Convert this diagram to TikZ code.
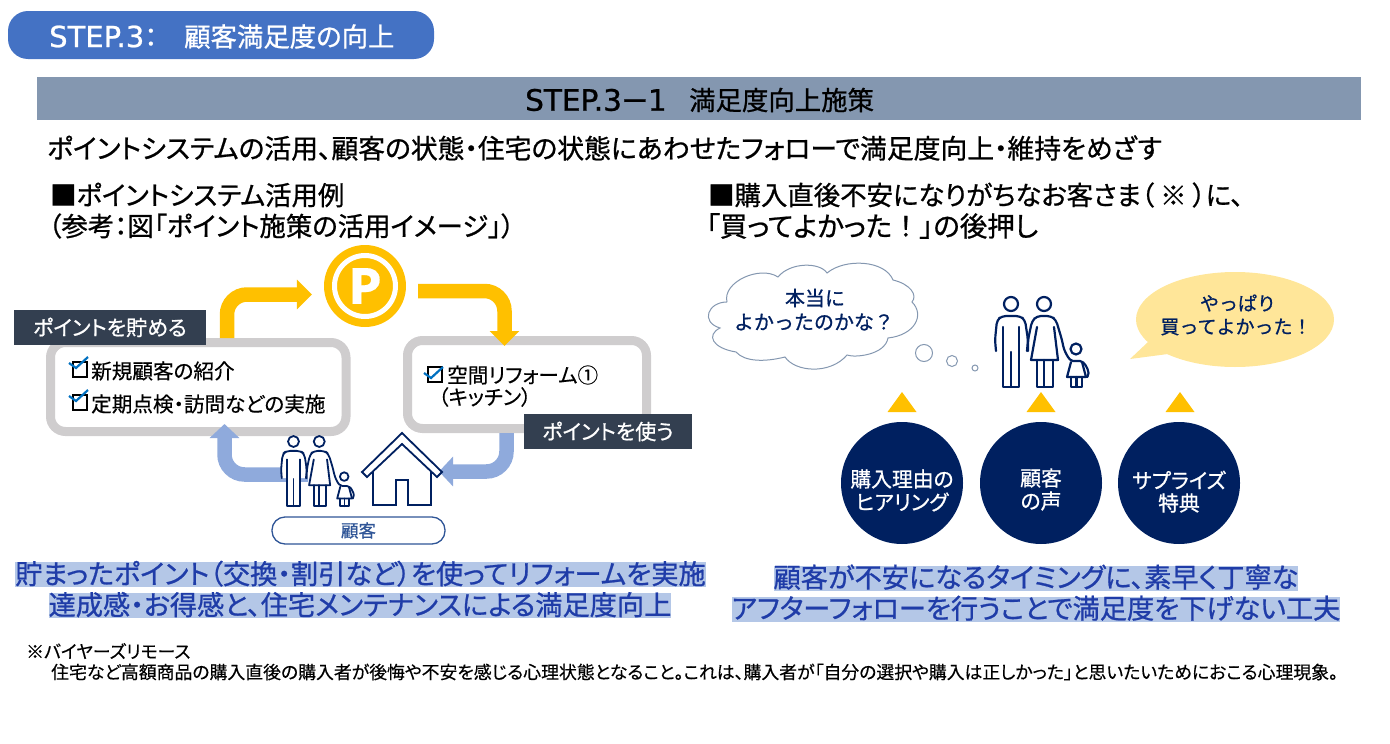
\documentclass[tikz,border=0pt]{standalone}
\usepackage{fontspec}
\setmainfont[RawFeature={+palt},FakeBold=0.4]{Noto Sans CJK JP}
\newfontfamily\medfont[RawFeature={+palt},FakeBold=0.8]{Noto Sans CJK JP}
\newfontfamily\widefont[FakeBold=0.8]{Noto Sans CJK JP}
\newfontfamily\latinfont[FakeBold=0.8]{DejaVu Sans}
\usetikzlibrary{positioning, arrows.meta}
\definecolor{navy}{HTML}{002060}
\definecolor{slate}{HTML}{333F50}
\definecolor{gold}{HTML}{FFC000}
\definecolor{softblue}{HTML}{8FAADC}
\definecolor{softgray}{HTML}{CFCDCE}
\definecolor{hilite}{HTML}{B4C7E7}
\definecolor{hitext}{HTML}{1F3CA8}
\definecolor{titleblue}{HTML}{4472C4}
\definecolor{bandgray}{HTML}{8497B0}
\definecolor{custblue}{HTML}{2F5597}
\definecolor{cloudgray}{HTML}{8497B0}
\definecolor{bubble}{HTML}{FFE699}
\definecolor{tickblue}{HTML}{0070C0}
\newcommand{\fs}[1]{\fontsize{#1}{#1}\selectfont}
\tikzset{
  txt/.style={inner sep=0pt, anchor=west},
  headtxt/.style={txt, font=\medfont\fs{26.4}},
  hitxt/.style={inner sep=0pt, fill=hilite, text=hitext, text height=22pt, text depth=3pt, font=\medfont\fs{27.2}},
  notetxt/.style={txt, font=\fs{17.85}},
  itemtxt/.style={txt, font=\fs{20.6}},
  tagbox/.style={fill=slate, text=white, inner sep=0pt, minimum height=35pt, font=\medfont\fs{21}},
  panelbox/.style={draw=softgray, line width=9pt, rounded corners=15pt, fill=white, inner sep=0pt},
  goldarrow/.style={draw=gold, line width=14.5pt, rounded corners=20pt, -{Triangle[width=29pt,length=15pt]}},
  bluearrow/.style={draw=softblue, line width=14.5pt, rounded corners=20pt, -{Triangle[width=29pt,length=14pt]}},
  roundnode/.style={circle, fill=navy, text=white, minimum size=122pt, inner sep=0pt},
  saytxt/.style={inner sep=0pt, text=navy, font=\widefont\fs{20}},
  circtxt/.style={inner sep=0pt, text=white, font=\medfont\fs{20.8}},
  pics/tickbox/.style={code={
    \draw[black, line width=1.6pt] (0,0) rectangle (14,15);
    \draw[tickblue, line width=2.2pt] (-4,{1+#1}) -- (3,{6+#1}) -- (15,{-5+#1});
  }},
  pics/uptriangle/.style={code={\fill[gold] (0,0) -- (14.5,20) -- (-14.5,20) -- cycle;}},
  pics/family/.style={code={
    \begin{scope}[draw=navy, line width=#1, line join=round, line cap=round, fill=white]
      % man
      \fill (-15,47) -- (-16,36) -- (-13,18) -- (-9,13) -- (9,13) -- (14,18) -- (17,36) -- (16,47) -- (8,47) -- (8,83) -- (-8,83) -- (-8,47) -- cycle;
      \draw[rounded corners=4pt] (-15,47) -- (-16,36) -- (-14,16) -- (-9,12) -- (9,12) -- (14,16) -- (17,36) -- (16,47);
      \draw (-8,23) -- (-8,83) -- (8,83) -- (8,23);
      \draw (0,48) -- (0,83);
      \draw (0,0) circle (7);
      % woman
      \filldraw[rounded corners=4pt] (17,47) -- (17,36) -- (21,17) -- (26,12) -- (40,12) -- (45,16) -- (51,36) -- (53,46) -- (57,53);
      \filldraw (26,23) -- (20,56) -- (47,56) -- (43,23);
      \draw (26,56) -- (26,83) -- (42,83) -- (42,56);
      \draw (33,56) -- (33,83);
      \draw (33,0) circle (7);
      % child
      \draw (65,45) circle (5.5);
      \filldraw (60,58) -- (56,73) -- (75,73) -- (71,58);
      \draw[rounded corners=2pt] (57,53) -- (60,57) -- (71,57) -- (76,63) -- (78,71) -- (76,73);
      \draw (60,73) -- (60,83) -- (71,83) -- (71,73);
      \draw (65.5,73) -- (65.5,83);
    \end{scope}
  }}
}

\begin{document}
\begin{tikzpicture}[x=1pt, y=-1pt]
  \useasboundingbox (0,0) rectangle (1390,744);

  % Title and band
  \node[fill=titleblue, rounded corners=20pt, minimum width=426pt, minimum height=48pt, inner sep=0pt] (titlebar) at (221,35) {};
  \node[txt, text=white, font=\medfont\fs{26.4}] (titletxt) at (49,36.5) {{\latinfont\fs{29}STEP.3}：};
  \node[txt, text=white, font=\medfont\fs{26.4}] (titlejp) at (184,36.5) {顧客満足度の向上};
  \node[fill=bandgray, minimum width=1324pt, minimum height=43pt, inner sep=0pt] (band) at (699,98.5) {};
  \node[txt, font=\medfont\fs{26.4}] (bandtxt) at (525,100) {{\latinfont\fs{29.5}STEP.3}ー{\latinfont\fs{29.5}1}};
  \node[txt, font=\medfont\fs{26.4}] (bandjp) at (689,100) {満足度向上施策};
  \node[txt, font=\medfont\fs{26.8}] (lead) at (47,148) {ポイントシステムの活用、顧客の状態・住宅の状態にあわせたフォローで満足度向上・維持をめざす};

  % Headings
  \node[headtxt] (headL1) at (50,195) {■ポイントシステム活用例};
  \node[headtxt] (headL2) at (48,226) {（参考：図「ポイント施策の活用イメージ」）};
  \node[headtxt] (headR1) at (708,195) {■購入直後不安になりがちなお客さま（\hspace{6pt}※\hspace{6pt}）に、};
  \node[headtxt, font=\medfont\fs{27.5}] (headR2) at (706,226) {「買ってよかった{\widefont！}」の後押し};

  % Left cycle
  \node[panelbox, minimum width=295.5pt, minimum height=89pt] (boxSave) at (198.25,387) {};
  \node[panelbox, minimum width=239pt, minimum height=88pt] (boxUse) at (527,384.5) {};
  \node[circle, fill=gold, minimum size=82pt, inner sep=0pt] (pMark) at (365,286) {};
  \node[circle, draw=white, line width=5pt, minimum size=61pt, inner sep=0pt, text=white, font=\bfseries\fs{48}] (pLetter) at (365,286) {P};

  \coordinate (famEnd) at (308,474.5);
  \coordinate (houseEnd) at (439,471.5);

  % Arrows
  \draw[goldarrow] ([xshift=28.75pt]boxSave.north) |- ([xshift=-12pt,yshift=-8.5pt]pMark.west);
  \draw[goldarrow] ([xshift=12pt,yshift=-5pt]pMark.east) -| ([xshift=-22.5pt,yshift=-10pt]boxUse.north);
  \draw[bluearrow] (famEnd) -| ([xshift=26.25pt,yshift=12pt]boxSave.south);
  \draw[bluearrow] ([xshift=-20.5pt]boxUse.south) |- (houseEnd);

  % Tags
  \node[tagbox, minimum width=192pt, text height=16pt, text depth=0pt] (tagSave) at (110,327.5) {ポイントを貯める};
  \node[tagbox, minimum width=168pt, text height=16pt, text depth=0pt] (tagUse) at (608,431.5) {ポイントを使う};

  % Box contents
  \pic at (73,362) {tickbox=0};
  \node[itemtxt] (item1) at (91,371) {新規顧客の紹介};
  \pic at (73,395) {tickbox=0};
  \node[itemtxt] (item2) at (91,404) {定期点検・訪問などの実施};
  \pic at (428,367) {tickbox=5};
  \node[itemtxt] (item3) at (447,375) {空間リフォーム①};
  \node[itemtxt] (item4) at (438,397) {（キッチン）};

  % Customer and house
  \pic[scale=0.78] at (293.5,441.5) {family=1.8pt};
  \draw[draw=navy, line width=1.8pt, fill=white, line join=miter] (373,505) -- (373,462) -- (402,444) -- (431,462) -- (431,505) -- (408,505) -- (408,480) -- (396,480) -- (396,505) -- cycle;
  \draw[draw=navy, line width=1.8pt, fill=white, line join=miter] (362,472) -- (402,433) -- (442,472) -- (437,477) -- (402,444) -- (367,477) -- cycle;
  \node[draw=custblue, line width=1.3pt, fill=white, rounded corners=13pt, minimum width=173pt, minimum height=27pt, inner sep=0pt, text=custblue, font=\medfont\fs{17.5}] (customer) at (358.5,530.5) {顧客};

  % Left summary
  \node[hitxt] (sumL1) at (360.5,574.5) {貯まったポイント（交換・割引など）を使ってリフォームを実施};
  \node[hitxt] (sumL2) at (360,605.5) {達成感・お得感と、住宅メンテナンスによる満足度向上};

  % Cloud
  \draw[draw=cloudgray, line width=1pt, fill=white] (727,302) .. controls (722,282) and (760,265) .. (778,277)
    .. controls (790,262) and (820,262) .. (827,273)
    .. controls (845,258) and (885,260) .. (893,280)
    .. controls (910,284) and (918,295) .. (912,302)
    .. controls (925,315) and (915,335) .. (888,338)
    .. controls (885,355) and (855,358) .. (847,355)
    .. controls (830,375) and (795,372) .. (785,357)
    .. controls (765,362) and (745,362) .. (736,352)
    .. controls (712,348) and (706,335) .. (720,328)
    .. controls (700,322) and (708,302) .. (727,302);
  \draw[draw=cloudgray, line width=1pt] (924,353) circle (8.5);
  \draw[draw=cloudgray, line width=1pt] (952,361) circle (5.5);
  \draw[draw=cloudgray, line width=1pt] (975,368) circle (3);
  \node[saytxt] (say1) at (815,298) {本当に};
  \node[saytxt] (say2) at (814,322) {よかったのかな？};

  % Bubble
  \fill[bubble] (1130,359) -- (1148,342) -- (1168,354) -- cycle;
  \fill[bubble] (1235,319.5) ellipse (99 and 47.5);
  \node[saytxt, font=\widefont\fs{19}] (say3) at (1238,303) {やっぱり};
  \node[saytxt, font=\widefont\fs{19}] (say4) at (1236,327) {買ってよかった！};

  \pic at (1011,304) {family=2.2pt};

  % Circles
  \pic at (902,392) {uptriangle};
  \pic at (1041,392) {uptriangle};
  \pic at (1180,392) {uptriangle};
  \node[roundnode] (circ1) at (902,483) {};
  \node[roundnode] (circ2) at (1041,483) {};
  \node[roundnode] (circ3) at (1179,483) {};
  \node[circtxt] (c1a) at (902,479) {購入理由の};
  \node[circtxt] (c1b) at (902,502) {ヒアリング};
  \node[circtxt] (c2a) at (1041,478) {顧客};
  \node[circtxt] (c2b) at (1041,501) {の声};
  \node[circtxt] (c3a) at (1179,480) {サプライズ};
  \node[circtxt] (c3b) at (1179,503) {特典};

  % Right summary
  \node[hitxt] (sumR1) at (1036,578) {顧客が不安になるタイミングに、素早く丁寧な};
  \node[hitxt] (sumR2) at (1036,609) {アフターフォローを行うことで満足度を下げない工夫};

  % Footnote
  \node[notetxt] (note1) at (26,651) {※バイヤーズリモース};
  \node[notetxt] (note2) at (51,672) {住宅など高額商品の購入直後の購入者が後悔や不安を感じる心理状態となること。これは、購入者が「自分の選択や購入は正しかった」と思いたいためにおこる心理現象。};
\end{tikzpicture}
\end{document}
